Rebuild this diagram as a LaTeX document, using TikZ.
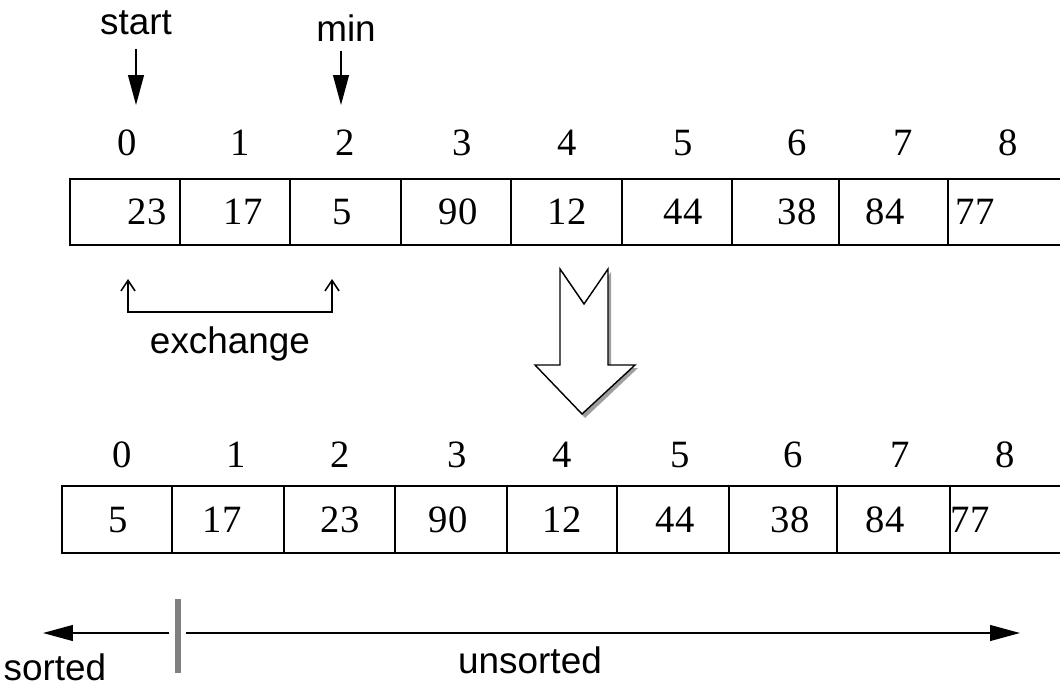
\documentclass[tikz,border=0pt]{standalone}
\usepackage{fontspec}
\setmainfont{Liberation Serif}
\setsansfont{Liberation Sans}
\usetikzlibrary{arrows.meta}

\tikzset{
    idx/.style={font=\fontsize{22}{24}\selectfont},
    val/.style={font=\fontsize{22}{24}\selectfont},
    lbl/.style={font=\sffamily\fontsize{21}{23}\selectfont},
    cellline/.style={line width=1.1pt},
    pointer/.style={line width=0.85pt,-{Triangle[length=17pt,width=9pt]}},
    swap/.style={line width=0.9pt,{Straight Barb[length=6pt,width=8pt]}-{Straight Barb[length=6pt,width=8pt]}},
}

\begin{document}
\begin{tikzpicture}[x=0.02cm,y=-0.02cm]
    \useasboundingbox (0,0) rectangle (1060,689);

    % array before the exchange
    \draw[cellline] (1060,179)--(70,179)--(70,245)--(1060,245);
    \foreach \x in {180,290,401,511,622,732,839,948}
    {
        \draw[cellline] (\x,179)--(\x,245);
    }
    \foreach \i/\x in {0/127,1/240,2/345,3/462,4/567,5/683,6/797,7/903,8/1008}
    {
        \node[idx] (t\i) at (\x,143) {\i};
    }
    \foreach \i/\x/\v in {0/147/23,1/243/17,2/342/5,3/458/90,4/567/12,5/683/44,6/797/38,7/885/84,8/975/77}
    {
        \node[val] (a\i) at (\x,212) {\v};
    }

    % start and min pointers
    \node[lbl] (start) at (136,23) {start};
    \node[lbl] (min) at (346,28) {min};
    \coordinate (starttip) at (136,105);
    \coordinate (mintip) at (341,105);
    \draw[pointer,shorten <=0.16cm] (start.south -| starttip) -- (starttip);
    \draw[pointer,shorten <=0.06cm] (min.south -| mintip) -- (mintip);

    % exchange bracket
    \coordinate (xa) at (128,279);
    \coordinate (xb) at (332,279);
    \draw[swap] (xa) -- ++(0,33) -| (xb);
    \node[lbl] (xchg) at (230,344) {exchange};

    % big hollow arrow with its shadow
    \fill[gray!75] (563,272)--(587,307)--(611,272)--(611,368)--(638,368)--(585,418)--(538,368)--(563,368)--cycle;
    \filldraw[fill=white,line width=0.8pt] (560,269)--(584,304)--(608,269)--(608,365)--(635,365)--(582,414)--(535,365)--(560,365)--cycle;

    % array after the exchange
    \draw[cellline] (1060,486)--(62,486)--(62,553)--(1060,553);
    \foreach \x in {172,284,395,507,617,729,837,950}
    {
        \draw[cellline] (\x,486)--(\x,553);
    }
    \foreach \i/\x in {0/122,1/236,2/340,3/457,4/562,5/680,6/793,7/900,8/1005}
    {
        \node[idx] (b\i) at (\x,455) {\i};
    }
    \foreach \i/\x/\v in {0/118/5,1/222/17,2/340/23,3/448/90,4/562/12,5/675/44,6/790/38,7/885/84,8/970/77}
    {
        \node[val] (c\i) at (\x,520) {\v};
    }

    % sorted / unsorted split
    \draw[gray,line width=3.4pt] (178,599)--(178,673);
    \coordinate (cut) at (178,633);
    \coordinate (lend) at (43,633);
    \coordinate (rend) at (1020,633);
    \draw[pointer,shorten <=0.18cm] (cut) -- (lend);
    \draw[pointer,shorten <=0.16cm] (cut) -- (rend);
    \node[lbl] (sorted) at (55,667) {sorted};
    \node[lbl] (unsorted) at (530,660) {unsorted};
\end{tikzpicture}
\end{document}
